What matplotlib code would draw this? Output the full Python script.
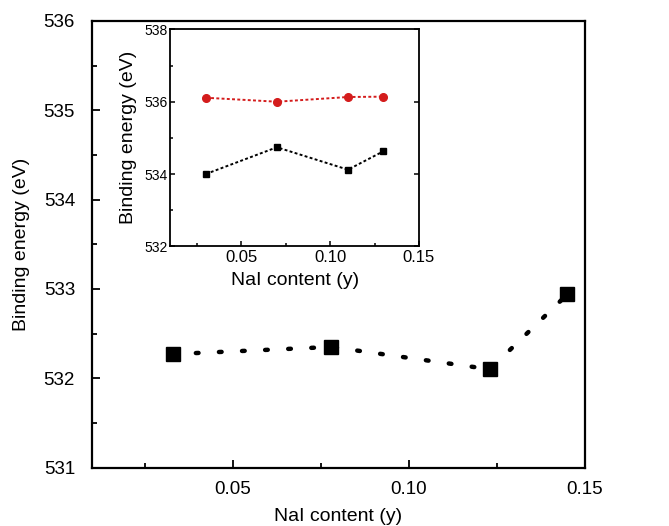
import matplotlib
matplotlib.use("Agg")
import matplotlib.pyplot as plt
from matplotlib.ticker import MultipleLocator

plt.rcParams['font.family'] = ['Liberation Sans', 'DejaVu Sans']

# main panel: binding energy vs NaI content
nai_main = [0.033, 0.078, 0.123, 0.145]
be_main = [532.27, 532.35, 532.10, 532.94]

# inset: two components
nai_inset = [0.03, 0.07, 0.11, 0.13]
be_high = [536.11, 536.00, 536.13, 536.14]
be_low = [534.00, 534.74, 534.12, 534.63]

fig = plt.figure(figsize=(6.69, 5.26), dpi=100)

ax = fig.add_axes([0.1371, 0.1112, 0.7374, 0.8489])
ax.plot(nai_main, be_main, color='black', lw=3.2, dashes=(0.6, 4.6),
        dash_capstyle='round', zorder=2)
ax.plot(nai_main, be_main, ls='none', marker='s', ms=10, color='black',
        zorder=3)
ax.set_xlim(0.01, 0.15)
ax.set_ylim(531, 536)
ax.xaxis.set_minor_locator(MultipleLocator(0.025))
ax.yaxis.set_major_locator(MultipleLocator(1))
ax.yaxis.set_minor_locator(MultipleLocator(0.5))
ax.set_xticks([0.05, 0.10, 0.15])
ax.set_xticklabels(['0.05', '0.10', '0.15'])
ax.tick_params(which='both', direction='in', labelsize=13.5)
ax.tick_params(which='major', length=5.5, width=1.3)
ax.tick_params(which='minor', length=3.5, width=1.3)
ax.tick_params(axis='y', which='major', pad=12)
ax.tick_params(axis='x', which='major', pad=10)
for s in ax.spines.values():
    s.set_linewidth(1.6)
ax.set_xlabel('NaI content (y)', fontsize=14, labelpad=7)
ax.set_ylabel('Binding energy (eV)', fontsize=14, labelpad=10)

ins = fig.add_axes([0.2546, 0.5317, 0.3717, 0.4124])
ins.plot(nai_inset, be_high, color='#d41c1c', lw=1.4, dashes=(1.5, 1.2),
         marker='o', ms=5.5, zorder=3)
ins.plot(nai_inset, be_low, color='black', lw=1.4, dashes=(1.5, 1.2),
         marker='s', ms=4, zorder=3)
ins.set_xlim(0.01, 0.15)
ins.set_ylim(532, 538)
ins.xaxis.set_minor_locator(MultipleLocator(0.025))
ins.yaxis.set_major_locator(MultipleLocator(2))
ins.yaxis.set_minor_locator(MultipleLocator(1))
ins.set_xticks([0.05, 0.10, 0.15])
ins.set_xticklabels(['0.05', '0.10', '0.15'])
ins.tick_params(which='both', direction='in', right=True)
ins.tick_params(which='minor', right=False, length=2.5, width=1.1)
ins.tick_params(which='major', length=3.5, width=1.1)
ins.tick_params(axis='x', labelsize=12, pad=3)
ins.tick_params(axis='y', labelsize=10, pad=2)
for s in ins.spines.values():
    s.set_linewidth(1.3)
ins.set_xlabel('NaI content (y)', fontsize=14, labelpad=5)
ins.set_ylabel('Binding energy (eV)', fontsize=14, labelpad=5)

fig.savefig('out.png', dpi=100)
